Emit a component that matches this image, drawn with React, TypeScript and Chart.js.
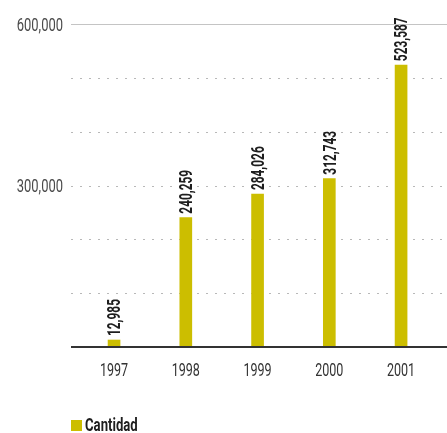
import React, { useEffect, useRef } from "react";
import { Chart, registerables } from "chart.js";
Chart.register(...registerables);

const years = [1997, 1998, 1999, 2000, 2001];
const cantidad = [12985, 240259, 284026, 312743, 523587];
const yTickLabels = [300000, 600000];
const seriesLabel = "Cantidad";

const FONT = 'Roboto, "DejaVu Sans Condensed", sans-serif';
const BAR = "#ccbe00";

const fmt = (v: number) => v.toLocaleString("en-US");

function condensedText(
  ctx: CanvasRenderingContext2D,
  text: string,
  x: number,
  y: number,
  sx: number,
  align: CanvasTextAlign,
  font: string,
  color: string
) {
  ctx.save();
  ctx.translate(x, y);
  ctx.scale(sx, 1);
  ctx.font = font;
  ctx.fillStyle = color;
  ctx.textAlign = align;
  ctx.textBaseline = "alphabetic";
  ctx.fillText(text, 0, 0);
  ctx.restore();
}

export default function App() {
  const ref = useRef<HTMLCanvasElement>(null);
  useEffect(() => {
    if (!ref.current) return;
    const deco = {
      id: "deco",
      beforeDatasetsDraw(chart: any) {
        const { ctx, chartArea: a, scales } = chart;
        const y = scales.y;
        ctx.save();
        for (const t of y.ticks) {
          if (t.value === 0) continue;
          const py = Math.round(y.getPixelForValue(t.value)) + 0.5;
          ctx.beginPath();
          ctx.lineWidth = 1;
          if (t.value === y.max) {
            ctx.setLineDash([]);
            ctx.strokeStyle = "#c4c4c4";
          } else {
            ctx.setLineDash([2, 7]);
            ctx.strokeStyle = "#b8b8b8";
          }
          ctx.moveTo(a.left, py);
          ctx.lineTo(a.right, py);
          ctx.stroke();
        }
        ctx.restore();
      },
      afterDatasetsDraw(chart: any) {
        const { ctx, chartArea: a, scales } = chart;
        const y = scales.y;
        const x = scales.x;
        ctx.save();
        // baseline
        const by = y.getPixelForValue(0);
        ctx.strokeStyle = "#333";
        ctx.lineWidth = 2;
        ctx.beginPath();
        ctx.moveTo(a.left, by);
        ctx.lineTo(a.right, by);
        ctx.stroke();

        // y tick labels
        for (const v of yTickLabels) {
          const py = y.getPixelForValue(v);
          condensedText(ctx, fmt(v), a.left - 8, py + 6.5, 0.72, "right", `400 18px ${FONT}`, "#4a4a4a");
        }
        // x tick labels
        for (const yr of years) {
          condensedText(ctx, String(yr), x.getPixelForValue(yr), a.bottom + 28.5, 0.66, "center", `400 19px ${FONT}`, "#333");
        }

        // data labels
        const meta = chart.getDatasetMeta(0);
        meta.data.forEach((el: any, i: number) => {
          ctx.save();
          ctx.translate(el.x, el.y - 4);
          ctx.rotate(-Math.PI / 2);
          ctx.scale(0.66, 1);
          ctx.font = `bold 18px ${FONT}`;
          ctx.fillStyle = "#1e1e1e";
          ctx.textAlign = "left";
          ctx.textBaseline = "alphabetic";
          ctx.fillText(fmt(cantidad[i]), 0, 6.4);
          ctx.restore();
        });

        // legend
        const ds = chart.data.datasets[0];
        const ly = chart.height - 13;
        ctx.fillStyle = ds.backgroundColor;
        ctx.fillRect(a.left, ly, 11, 11);
        condensedText(ctx, ds.label, a.left + 14, ly + 11, 0.73, "left", `bold 18px ${FONT}`, "#1e1e1e");
        ctx.restore();
      },
    };

    const chart = new Chart(ref.current, {
      type: "bar",
      data: {
        datasets: [
          {
            label: seriesLabel,
            data: years.map((x, i) => ({ x, y: cantidad[i] })),
            backgroundColor: BAR,
            barThickness: 12,
          },
        ],
      },
      options: {
        animation: false,
        responsive: false,
        maintainAspectRatio: false,
        layout: { padding: { top: 24, right: 0, bottom: 56, left: 0 } },
        plugins: { legend: { display: false }, tooltip: { enabled: false } },
        scales: {
          x: {
            type: "linear",
            offset: false,
            min: 1996.4,
            max: 2001.64,
            grid: { display: false, drawTicks: false, offset: false },
            border: { display: false },
            afterBuildTicks: (s: any) => {
              s.ticks = years.map((v) => ({ value: v }));
            },
            ticks: { display: false },
            afterFit: (s: any) => {
              s.height = 30;
            },
          },
          y: {
            min: 0,
            max: 600000,
            grid: { display: false, drawTicks: false },
            border: { display: false },
            ticks: { display: false, stepSize: 100000 },
            afterFit: (s: any) => {
              s.width = 71;
            },
          },
        },
      },
      plugins: [deco],
    } as any);
    return () => chart.destroy();
  }, []);

  return (
    <div style={{ position: "absolute", left: 0, top: 0, width: 447, height: 433, background: "#fff" }}>
      <canvas ref={ref} width={447} height={433} style={{ display: "block", width: 447, height: 433 }} />
    </div>
  );
}
